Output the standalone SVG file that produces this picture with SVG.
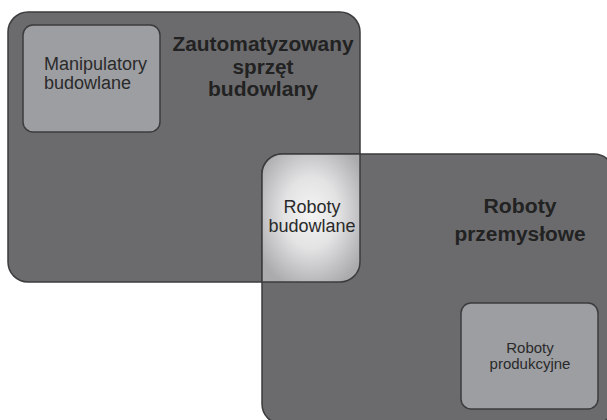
<svg xmlns="http://www.w3.org/2000/svg" width="607" height="420" viewBox="0 0 607 420">
<defs>
<radialGradient id="g" cx="0.5" cy="0.46" r="0.62" fx="0.5" fy="0.46">
<stop offset="0" stop-color="#f4f4f4"/>
<stop offset="0.45" stop-color="#e3e3e4"/>
<stop offset="1" stop-color="#ababae"/>
</radialGradient>
<style>
.big{fill:#6b6b6d;stroke:#3c3c3e;stroke-width:1.5}
.box{fill:#9d9ea2;stroke:#3c3c3e;stroke-width:1.5}
.t{font-family:"Liberation Sans",Arial,sans-serif;font-size:18px;fill:#2a2a2a}
.s{font-family:"Liberation Sans",Arial,sans-serif;font-size:15px;fill:#2a2a2a;text-anchor:middle}
.h{font-family:"Liberation Sans",Arial,sans-serif;font-weight:bold;font-size:20px;fill:#222;text-anchor:middle}
</style>
</defs>
<g id="zautomatyzowany">
<rect class="big" x="8" y="12" width="352" height="270" rx="20"/>
<text class="h" x="263" y="51" textLength="181" lengthAdjust="spacingAndGlyphs">Zautomatyzowany</text>
<text class="h" x="263" y="73.6" textLength="61" lengthAdjust="spacingAndGlyphs">sprzęt</text>
<text class="h" x="263" y="96.2" textLength="110" lengthAdjust="spacingAndGlyphs">budowlany</text>
</g>
<g id="przemyslowe">
<rect class="big" x="262" y="154" width="352" height="270" rx="20"/>
<text class="h" x="520" y="213" textLength="73" lengthAdjust="spacingAndGlyphs">Roboty</text>
<text class="h" x="520" y="241" textLength="131" lengthAdjust="spacingAndGlyphs">przemysłowe</text>
</g>
<g id="manipulatory">
<rect class="box" x="23" y="25" width="137" height="107" rx="10"/>
<text class="t"><tspan x="44" y="70">Manipulatory</tspan><tspan x="44" y="89">budowlane</tspan></text>
</g>
<g id="budowlane">
<path d="M282,154 H360 V262 A20,20 0 0 1 340,282 H262 V174 A20,20 0 0 1 282,154 Z" fill="url(#g)" stroke="#3c3c3e" stroke-width="1.5"/>
<text class="t" text-anchor="middle"><tspan x="312" y="213">Roboty</tspan><tspan x="312" y="232">budowlane</tspan></text>
</g>
<g id="produkcyjne">
<rect class="box" x="461" y="303" width="137" height="106" rx="10"/>
<text class="s"><tspan x="530" y="353">Roboty</tspan><tspan x="530" y="369">produkcyjne</tspan></text>
</g>
<g id="connectors"/>
</svg>
